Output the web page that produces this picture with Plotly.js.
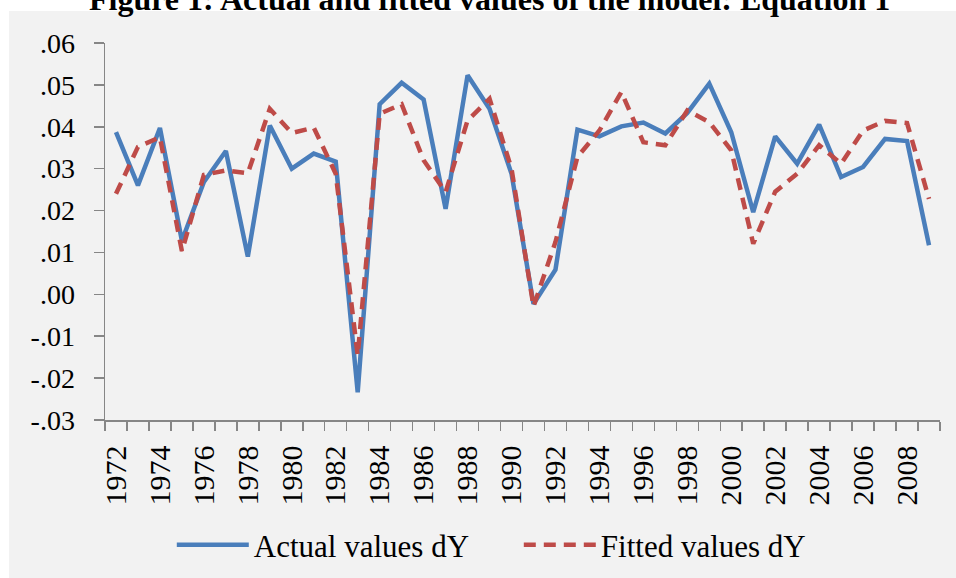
<!DOCTYPE html>
<html>
<head>
<meta charset="utf-8">
<script src="https://cdn.plot.ly/plotly-3.0.1.min.js"></script>
<style>
html,body{margin:0;padding:0;background:#ffffff;}
#chart{width:956px;height:578px;}
</style>
</head>
<body>
<div id="chart"></div>
<script>
var years = [1972,1973,1974,1975,1976,1977,1978,1979,1980,1981,1982,1983,1984,
             1985,1986,1987,1988,1989,1990,1991,1992,1993,1994,1995,1996,1997,
             1998,1999,2000,2001,2002,2003,2004,2005,2006,2007,2008,2009];
var actualValues = [0.0387,0.0260,0.0397,0.0128,0.0268,0.0342,0.0090,0.0403,0.0300,0.0336,0.0317,-0.0234,0.0454,
                    0.0505,0.0465,0.0204,0.0523,0.0443,0.0288,-0.0023,0.0059,0.0393,0.0377,0.0401,0.0410,0.0384,
                    0.0433,0.0503,0.0387,0.0196,0.0377,0.0312,0.0405,0.0280,0.0304,0.0371,0.0366,0.0117];
var fittedValues = [0.0240,0.0352,0.0375,0.0103,0.0285,0.0296,0.0289,0.0443,0.0385,0.0398,0.0288,-0.0146,0.0431,
                    0.0454,0.0320,0.0244,0.0415,0.0467,0.0300,-0.0029,0.0125,0.0328,0.0391,0.0483,0.0363,0.0356,
                    0.0439,0.0411,0.0344,0.0121,0.0245,0.0288,0.0356,0.0312,0.0391,0.0414,0.0409,0.0228];
var xTickVals = [1972,1974,1976,1978,1980,1982,1984,1986,1988,1990,1992,1994,1996,1998,2000,2002,2004,2006,2008];
var xTickText = ['1972','1974','1976','1978','1980','1982','1984','1986','1988','1990','1992','1994','1996','1998','2000','2002','2004','2006','2008'];
var yTickVals = [-0.03,-0.02,-0.01,0,0.01,0.02,0.03,0.04,0.05,0.06];
var yTickText = ['-.03','-.02','-.01','.00','.01','.02','.03','.04','.05','.06'];
var seriesNames = ['Actual values dY','Fitted values dY'];
var chartTitle = 'Figure 1: Actual and fitted values of the model: Equation 1';

var FONT = 'Liberation Serif, Times New Roman, serif';
var traces = [
  {x: years, y: actualValues, name: seriesNames[0], type: 'scatter', mode: 'lines',
   line: {color: '#4a7ebb', width: 4.5}},
  {x: years, y: fittedValues, name: seriesNames[1], type: 'scatter', mode: 'lines',
   line: {color: '#be4b48', width: 4.5, dash: '12px,8px'}}
];
var layout = {
  width: 956, height: 578,
  margin: {l: 105, r: 16, t: 43, b: 158, pad: 0, autoexpand: false},
  paper_bgcolor: '#ffffff',
  plot_bgcolor: '#f2f2f2',
  font: {family: FONT, color: '#000000'},
  showlegend: true,
  legend: {orientation: 'h', x: 0.08, xanchor: 'left', y: -0.332, yanchor: 'middle',
           font: {family: FONT, size: 31, color: '#000000'}, bgcolor: 'rgba(0,0,0,0)',
           itemwidth: 72, entrywidth: 260, entrywidthmode: 'pixels', traceorder: 'normal'},
  xaxis: {type: 'linear', range: [1971.5, 2009.5], tickmode: 'array', tickvals: xTickVals, ticktext: xTickText,
          tickangle: -90, tickfont: {family: FONT, size: 30, color: '#000000'},
          ticks: 'outside', ticklen: 9, tickcolor: 'rgba(0,0,0,0)', ticklabelstandoff: 3, automargin: false,
          minor: {tick0: 1971.5, dtick: 1, ticks: 'outside', ticklen: 9, tickcolor: '#868686', tickwidth: 1.5, showgrid: false},
          showline: true, linecolor: '#868686', linewidth: 1.5, showgrid: false, zeroline: false, fixedrange: true},
  yaxis: {range: [-0.03, 0.06], tickmode: 'array', tickvals: yTickVals, ticktext: yTickText,
          tickfont: {family: FONT, size: 28, color: '#000000'}, automargin: false,
          ticks: 'outside', ticklen: 10, tickcolor: '#868686', tickwidth: 1.5, ticklabelstandoff: 13,
          showline: true, linecolor: '#868686', linewidth: 1.5, showgrid: false, zeroline: false, fixedrange: true},
  shapes: [{type: 'rect', xref: 'paper', yref: 'paper', x0: -0.115, x1: 1.02, y0: -0.42, y1: 1.085,
            fillcolor: '#f2f2f2', line: {width: 0}, layer: 'below'}],
  annotations: [{text: '<b>' + chartTitle + '</b>', xref: 'paper', yref: 'paper', x: 0.46, y: 1.118,
                 xanchor: 'center', yanchor: 'middle', showarrow: false,
                 font: {family: FONT, size: 32, color: '#000000'}}]
};
Plotly.newPlot('chart', traces, layout, {displayModeBar: false, staticPlot: true}).then(function(){
  document.querySelectorAll('#chart .legendlines path').forEach(function(p){ p.setAttribute('d','M5,0h72'); });
});
</script>
</body>
</html>
